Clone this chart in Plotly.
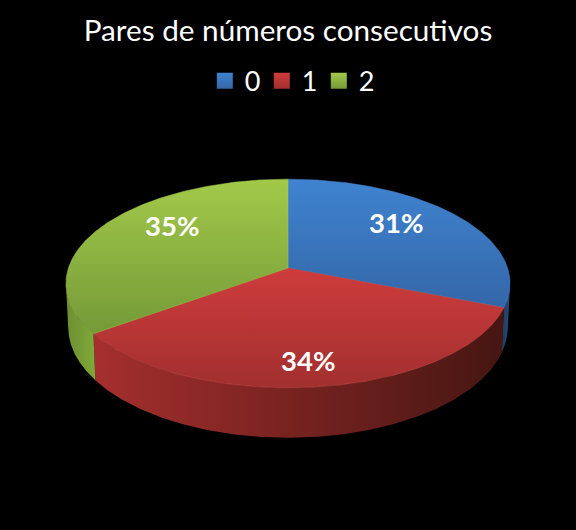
# %%
import numpy as np
import plotly.graph_objects as go

categories = ["0", "1", "2"]
values = [31, 34, 35]

top_colors = [("#3f83d0", "#3467a8"), ("#cf3c3c", "#a22f2f"), ("#a3c94a", "#749a38")]
wall_colors = [
    ("#1f3a5e", "#2a4e7c"),
    ("#a52f2e", "#461612"),
    ("#6c8f30", "#80a83a"),
]
rim_colors = ["#4a86cc", "#d0504e", "#a4c850"]

# label spots in pixels, the pie below sits on a 576x530 pixel axis
label_x = [396, 308, 172]
label_y = [222, 360, 225]

cx, cy = 288, 268
rx, ry = 219.6, 102
k = 0.148  # perspective of the tilted disc
depth = 42.6


def project(deg, drop=False):
    a = np.radians(deg)
    X, Y = np.sin(a), np.cos(a)
    w = 1 + k * Y
    x = cx + rx * X / w
    y = cy - ry * Y / w
    if drop:
        x = cx + (x - cx) * 0.99
        y = y + depth / w
    return x, y


fig = go.Figure()

total = sum(values)
ends = np.cumsum(values) / total * 360
starts = np.concatenate([[0], ends[:-1]])
side_from = np.degrees(np.arccos(-k))
side_to = 360 - side_from

# side walls first so the top faces cover them
for i in range(len(values)):
    a0, a1 = max(starts[i], side_from), min(ends[i], side_to)
    if a1 <= a0:
        continue
    t = np.linspace(a0, a1, 200)
    xt, yt = project(t)
    xb, yb = project(t[::-1], drop=True)
    fig.add_trace(go.Scatter(
        x=np.concatenate([xt, xb]), y=np.concatenate([yt, yb]),
        mode="lines", fill="toself", line=dict(width=0), showlegend=False, hoverinfo="skip",
        fillgradient=dict(type="horizontal", colorscale=[[0, wall_colors[i][0]], [1, wall_colors[i][1]]]),
    ))

# top faces, y axis is flipped so the gradient runs bottom colour first
for i in range(len(values)):
    t = np.linspace(starts[i], ends[i], 300)
    xt, yt = project(t)
    fig.add_trace(go.Scatter(
        x=np.concatenate([[cx], xt, [cx]]), y=np.concatenate([[cy], yt, [cy]]),
        mode="lines", fill="toself", line=dict(width=0.5, color=rim_colors[i]),
        showlegend=False, hoverinfo="skip",
        fillgradient=dict(type="vertical", colorscale=[[0, top_colors[i][1]], [1, top_colors[i][0]]]),
    ))

# legend entries
for i, name in enumerate(categories):
    fig.add_trace(go.Scatter(
        x=[None], y=[None], mode="markers", name=name,
        marker=dict(symbol="square", size=17, color=top_colors[i][0],
                    gradient=dict(type="vertical", color=top_colors[i][1])),
    ))

for i, v in enumerate(values):
    fig.add_annotation(
        x=label_x[i], y=label_y[i], text=f"<b>{round(v / total * 100)}%</b>", showarrow=False,
        font=dict(color="white", size=27.5, family="Lato"),
    )

fig.update_layout(
    width=576,
    height=530,
    margin=dict(l=0, r=0, t=0, b=0),
    paper_bgcolor="black",
    plot_bgcolor="black",
    font=dict(family="Lato", color="white"),
    title=dict(text="Pares de números consecutivos", x=0.5, xanchor="center", y=0.942, yanchor="middle",
               font=dict(size=29.7, color="white", family="Lato")),
    legend=dict(orientation="h", x=0.504, xanchor="center", y=0.847, yanchor="middle",
                entrywidth=12, entrywidthmode="pixels",
                font=dict(size=27, color="white"), bgcolor="rgba(0,0,0,0)"),
    xaxis=dict(range=[0, 576], visible=False, fixedrange=True),
    yaxis=dict(range=[530, 0], visible=False, fixedrange=True),
)

fig.write_html("out.html", config=dict(displayModeBar=False),
               post_script="document.body.style.margin='0';")
